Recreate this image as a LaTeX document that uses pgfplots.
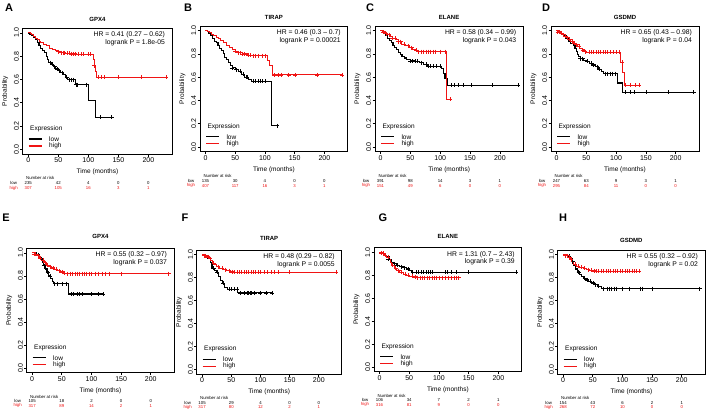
\documentclass[border=0pt]{standalone}
\usepackage{fontspec}
\setmainfont{Liberation Sans}
\usepackage{pgfplots}
\pgfplotsset{compat=1.18}
\definecolor{kmred}{RGB}{240,20,20}
\newcommand{\rfont}{\fontsize{4.3}{5}\selectfont}
\newcommand{\hfont}{\fontsize{6.8}{8}\selectfont}
\newcommand{\lfont}{\fontsize{6.5}{8}\selectfont}
\pgfplotsset{
 km/.style={
  scale only axis, anchor=south west, clip=false,
  xmin=-9.2, xmax=239.2, ymin=-0.04, ymax=1.04,
  xtick={0,50,100,150,200}, ytick={0,0.2,0.4,0.6,0.8,1},
  tick align=outside, xtick pos=bottom, ytick pos=left,
  major tick length=2.5pt,
  every tick/.style={black, line width=0.7pt},
  axis line style={line width=0.9pt},
  tick label style={font=\fontsize{7}{8}\selectfont},
  /pgf/number format/assume math mode=true,
  yticklabel style={rotate=90, anchor=south, inner sep=1pt, /pgf/number format/fixed, /pgf/number format/fixed zerofill, /pgf/number format/precision=1},
  xticklabel style={inner sep=1pt},
  xlabel={Time (months)}, ylabel={Probability},
  every axis x label/.style={at={(axis description cs:0.5,0)}, yshift=-18pt, anchor=center, font=\lfont},
  every axis y label/.style={at={(axis description cs:0,0.5)}, xshift=-17.5pt, rotate=90, anchor=center, font=\lfont},
 },
 lowc/.style={black, line width=1.1pt, const plot, no marks},
 highc/.style={kmred, line width=1.0pt, const plot, no marks},
 lowm/.style={black, only marks, mark=+, mark size=2pt, mark options={line width=0.6pt}, forget plot},
 highm/.style={kmred, only marks, mark=+, mark size=2pt, mark options={line width=0.6pt}, forget plot},
}
% #1 title, #2 title shift, #3 HR text, #4 P value
\newcommand{\kmtext}[4]{%
 \node[font=\bfseries\fontsize{6}{7}\selectfont, yshift=#2] at (rel axis cs:0.5,1) {#1};
 \node[font=\hfont, anchor=east, xshift=-3.5pt, yshift=-6.7pt] at (rel axis cs:1,1) {#3};
 \node[font=\hfont, anchor=east, xshift=-3.5pt, yshift=-14.5pt] at (rel axis cs:1,1) {logrank P = #4};
 \node[font=\lfont, anchor=west, xshift=4pt, yshift=25pt] at (rel axis cs:0,0) {Expression};
 \draw[black, line width=1.1pt] (rel axis cs:0,0) ++(6pt,15pt) -- ++(13pt,0pt);
 \draw[kmred, line width=1.1pt] (rel axis cs:0,0) ++(6pt,8pt) -- ++(13pt,0pt);
 \node[font=\lfont, anchor=west, xshift=23pt, yshift=15pt] at (rel axis cs:0,0) {low};
 \node[font=\lfont, anchor=west, xshift=23pt, yshift=8pt] at (rel axis cs:0,0) {high};
 \node[font=\rfont, anchor=west, yshift=-24pt] at (rel axis cs:0,0) {Number at risk};
}
% #1 color, #2 yshift, #3 label, #4-#8 numbers
\newcommand{\riskrow}[8]{%
 \node[text=#1, font=\rfont, xshift=-9pt, yshift=-#2] at (rel axis cs:0,0) {#3};
 \node[text=#1, font=\rfont, yshift=-#2] at (axis cs:0,-0.04) {#4};
 \node[text=#1, font=\rfont, yshift=-#2] at (axis cs:50,-0.04) {#5};
 \node[text=#1, font=\rfont, yshift=-#2] at (axis cs:100,-0.04) {#6};
 \node[text=#1, font=\rfont, yshift=-#2] at (axis cs:150,-0.04) {#7};
 \node[text=#1, font=\rfont, yshift=-#2] at (axis cs:200,-0.04) {#8};
}
\begin{document}
\begin{tikzpicture}[x=1pt,y=1pt]
\path[use as bounding box] (0,0) rectangle (708,413);
\node[font=\bfseries\fontsize{11}{12}\selectfont] at (9,405) {A};
\node[font=\bfseries\fontsize{11}{12}\selectfont] at (188,405) {B};
\node[font=\bfseries\fontsize{11}{12}\selectfont] at (370,405) {C};
\node[font=\bfseries\fontsize{11}{12}\selectfont] at (546,405) {D};
\node[font=\bfseries\fontsize{11}{12}\selectfont] at (6,195) {E};
\node[font=\bfseries\fontsize{11}{12}\selectfont] at (185,195) {F};
\node[font=\bfseries\fontsize{11}{12}\selectfont] at (383,195) {G};
\node[font=\bfseries\fontsize{11}{12}\selectfont] at (563,195) {H};

% ---------------- A ----------------
\begin{axis}[km, at={(22.7pt,259pt)}, width=149.3pt, height=125.7pt]
\addplot[lowc] coordinates {(0,1.0)(3,0.99)(6,0.975)(9,0.96)(12,0.94)(15,0.915)(18,0.89)(21,0.87)(24,0.85)(27,0.83)(30,0.80)(32,0.77)(34,0.745)(38,0.73)(42,0.71)(46,0.69)(50,0.675)(54,0.66)(58,0.64)(62,0.62)(66,0.60)(78,0.555)(101,0.416)(112,0.277)(139,0.277)};
\addplot[lowm] coordinates {(36,0.745)(40,0.73)(44,0.71)(48,0.69)(52,0.675)(56,0.66)(64,0.62)(68,0.60)(72,0.60)(75,0.60)(80,0.555)(82,0.555)(96,0.555)(120,0.277)(139,0.277)};
\addplot[highc] coordinates {(0,1.0)(3,0.995)(6,0.985)(9,0.97)(12,0.955)(15,0.94)(18,0.93)(21,0.92)(25,0.905)(30,0.89)(35,0.87)(40,0.86)(45,0.85)(50,0.84)(55,0.83)(62,0.825)(70,0.82)(80,0.815)(108,0.77)(110,0.72)(112,0.67)(114,0.62)(230,0.62)};
\addplot[highm] coordinates {(50,0.84)(55,0.83)(58,0.83)(60,0.83)(65,0.825)(68,0.825)(72,0.82)(75,0.82)(78,0.82)(84,0.815)(88,0.815)(92,0.815)(100,0.815)(104,0.815)(110,0.72)(116,0.62)(122,0.62)(126,0.62)(150,0.62)(188,0.62)(230,0.62)};
\kmtext{GPX4}{9.3pt}{HR = 0.41 (0.27 – 0.62)}{1.8e-05}
\riskrow{black}{29pt}{low}{235}{42}{4}{0}{0}
\riskrow{kmred}{34pt}{high}{307}{105}{16}{3}{1}
\end{axis}

% ---------------- B ----------------
\begin{axis}[km, at={(200pt,261.3pt)}, width=147.7pt, height=125.7pt]
\addplot[lowc] coordinates {(0,1.0)(3,0.99)(6,0.975)(9,0.955)(12,0.935)(15,0.91)(18,0.895)(21,0.87)(24,0.85)(27,0.83)(30,0.80)(32,0.77)(35,0.75)(38,0.725)(42,0.70)(46,0.68)(50,0.665)(55,0.65)(60,0.625)(66,0.60)(72,0.58)(78,0.565)(111,0.183)(120,0.183)};
\addplot[lowm] coordinates {(45,0.68)(52,0.665)(58,0.65)(63,0.625)(68,0.60)(70,0.60)(80,0.565)(84,0.565)(88,0.565)(92,0.565)(96,0.565)(100,0.565)(120,0.183)};
\addplot[highc] coordinates {(0,1.0)(3,0.995)(6,0.985)(10,0.97)(14,0.955)(18,0.94)(22,0.93)(26,0.915)(30,0.895)(35,0.875)(40,0.855)(45,0.84)(50,0.825)(55,0.81)(62,0.80)(70,0.79)(80,0.785)(104,0.745)(108,0.70)(112,0.66)(113,0.62)(230,0.62)};
\addplot[highm] coordinates {(50,0.825)(55,0.81)(58,0.81)(62,0.80)(66,0.80)(72,0.79)(75,0.79)(80,0.785)(84,0.785)(88,0.785)(95,0.785)(100,0.785)(116,0.62)(122,0.62)(127,0.62)(140,0.62)(151,0.62)(188,0.62)(230,0.62)};
\kmtext{TIRAP}{9pt}{HR = 0.46 (0.3 – 0.7)}{0.00021}
\riskrow{black}{29pt}{low}{135}{30}{4}{0}{0}
\riskrow{kmred}{34pt}{high}{407}{117}{16}{3}{1}
\end{axis}

% ---------------- C ----------------
\begin{axis}[km, at={(375pt,261.3pt)}, width=148.3pt, height=125.7pt]
\addplot[lowc] coordinates {(0,1.0)(3,0.99)(6,0.975)(9,0.955)(12,0.935)(15,0.915)(18,0.895)(21,0.875)(24,0.855)(27,0.835)(30,0.815)(33,0.795)(36,0.78)(40,0.765)(44,0.75)(50,0.74)(58,0.735)(65,0.725)(72,0.71)(78,0.695)(102,0.675)(105,0.635)(108,0.59)(112,0.53)(230,0.53)};
\addplot[lowm] coordinates {(50,0.74)(54,0.74)(58,0.735)(62,0.735)(68,0.725)(76,0.71)(80,0.695)(84,0.695)(88,0.695)(94,0.695)(100,0.695)(118,0.53)(124,0.53)(130,0.53)(138,0.53)(152,0.53)(188,0.53)(230,0.53)};
\addplot[highc] coordinates {(0,1.0)(4,0.99)(8,0.975)(12,0.965)(16,0.95)(20,0.935)(25,0.92)(30,0.905)(36,0.885)(42,0.87)(48,0.855)(54,0.84)(58,0.83)(62,0.82)(110,0.41)(117,0.41)};
\addplot[highm] coordinates {(5,0.99)(10,0.975)(15,0.965)(20,0.935)(24,0.935)(30,0.905)(34,0.905)(40,0.885)(46,0.87)(52,0.855)(60,0.83)(64,0.82)(68,0.82)(72,0.82)(76,0.82)(80,0.82)(84,0.82)(88,0.82)(92,0.82)(100,0.82)(108,0.82)(117,0.41)};
\kmtext{ELANE}{9pt}{HR = 0.58 (0.34 – 0.99)}{0.043}
\riskrow{black}{29pt}{low}{391}{98}{14}{3}{1}
\riskrow{kmred}{34pt}{high}{151}{49}{6}{0}{0}
\end{axis}

% ---------------- D ----------------
\begin{axis}[km, at={(551pt,261.3pt)}, width=148pt, height=125.7pt]
\addplot[lowc] coordinates {(0,1.0)(4,0.99)(8,0.975)(12,0.955)(16,0.93)(20,0.91)(24,0.89)(28,0.87)(31,0.85)(33,0.82)(35,0.795)(37,0.775)(40,0.76)(45,0.745)(50,0.735)(55,0.72)(60,0.705)(65,0.69)(70,0.67)(75,0.65)(79,0.63)(102,0.55)(111,0.47)(230,0.47)};
\addplot[lowm] coordinates {(40,0.76)(44,0.76)(52,0.735)(58,0.72)(62,0.705)(68,0.69)(72,0.67)(82,0.63)(86,0.63)(90,0.63)(94,0.63)(98,0.63)(116,0.47)(124,0.47)(130,0.47)(150,0.47)(188,0.47)(230,0.47)};
\addplot[highc] coordinates {(0,1.0)(3,0.99)(6,0.98)(9,0.965)(12,0.95)(15,0.94)(19,0.925)(23,0.91)(27,0.895)(31,0.88)(35,0.865)(39,0.85)(43,0.835)(47,0.82)(50,0.815)(108,0.73)(111,0.64)(114,0.53)(139,0.53)};
\addplot[highm] coordinates {(2,0.99)(5,0.99)(8,0.98)(11,0.965)(14,0.95)(18,0.94)(22,0.925)(26,0.91)(30,0.895)(34,0.88)(38,0.865)(44,0.835)(48,0.82)(55,0.815)(58,0.815)(62,0.815)(66,0.815)(70,0.815)(74,0.815)(78,0.815)(82,0.815)(86,0.815)(90,0.815)(95,0.815)(100,0.815)(105,0.815)(110,0.73)(116,0.53)(124,0.53)(132,0.53)(139,0.53)};
\kmtext{GSDMD}{9pt}{HR = 0.65 (0.43 – 0.98)}{0.04}
\riskrow{black}{29pt}{low}{247}{63}{9}{3}{1}
\riskrow{kmred}{34pt}{high}{295}{84}{11}{0}{0}
\end{axis}

% ---------------- E ----------------
\begin{axis}[km, at={(26.7pt,40.3pt)}, width=147.3pt, height=124.4pt]
\addplot[lowc] coordinates {(0,1.0)(8,0.985)(11,0.965)(14,0.95)(17,0.92)(19,0.89)(22,0.865)(25,0.835)(28,0.80)(31,0.775)(34,0.75)(36,0.733)(61,0.643)(120,0.643)};
\addplot[lowm] coordinates {(10,0.985)(15,0.95)(20,0.89)(23,0.865)(26,0.835)(30,0.80)(38,0.733)(42,0.733)(50,0.733)(58,0.733)(66,0.643)(70,0.643)(76,0.643)(80,0.643)(85,0.643)(100,0.643)(112,0.643)(120,0.643)};
\addplot[highc] coordinates {(0,1.0)(4,0.99)(8,0.975)(12,0.955)(16,0.935)(20,0.915)(24,0.895)(28,0.88)(33,0.87)(38,0.86)(43,0.845)(48,0.835)(53,0.825)(58,0.82)(230,0.82)};
\addplot[highm] coordinates {(3,0.99)(6,0.99)(10,0.975)(14,0.955)(18,0.935)(22,0.915)(26,0.895)(30,0.88)(35,0.87)(40,0.86)(45,0.845)(50,0.835)(55,0.825)(60,0.82)(64,0.82)(68,0.82)(72,0.82)(76,0.82)(80,0.82)(84,0.82)(88,0.82)(92,0.82)(96,0.82)(100,0.82)(106,0.82)(112,0.82)(118,0.82)(124,0.82)(130,0.82)(150,0.82)(230,0.82)};
\kmtext{GPX4}{12pt}{HR = 0.55 (0.32 – 0.97)}{0.037}
\riskrow{black}{28.5pt}{low}{105}{18}{2}{0}{0}
\riskrow{kmred}{33pt}{high}{317}{89}{14}{2}{1}
\end{axis}

% ---------------- F ----------------
\begin{axis}[km, at={(196.7pt,38.7pt)}, width=145pt, height=124.3pt]
\addplot[lowc] coordinates {(0,1.0)(6,0.99)(10,0.965)(14,0.93)(17,0.88)(21,0.86)(25,0.848)(28,0.81)(31,0.775)(35,0.75)(39,0.716)(43,0.70)(61,0.667)(120,0.667)};
\addplot[lowm] coordinates {(20,0.88)(26,0.848)(36,0.75)(46,0.70)(50,0.70)(55,0.70)(60,0.70)(65,0.667)(72,0.667)(78,0.667)(80,0.667)(82,0.667)(85,0.667)(90,0.667)(100,0.667)(110,0.667)(120,0.667)};
\addplot[highc] coordinates {(0,1.0)(4,0.99)(8,0.98)(12,0.965)(15,0.945)(18,0.925)(21,0.91)(25,0.895)(30,0.88)(36,0.87)(42,0.86)(48,0.85)(54,0.845)(230,0.845)};
\addplot[highm] coordinates {(3,0.99)(6,0.99)(10,0.98)(14,0.965)(20,0.925)(28,0.895)(34,0.88)(40,0.87)(46,0.86)(52,0.85)(56,0.845)(60,0.845)(64,0.845)(68,0.845)(72,0.845)(76,0.845)(80,0.845)(84,0.845)(88,0.845)(92,0.845)(96,0.845)(100,0.845)(106,0.845)(112,0.845)(118,0.845)(124,0.845)(130,0.845)(150,0.845)(230,0.845)};
\kmtext{TIRAP}{11.5pt}{HR = 0.48 (0.29 – 0.82)}{0.0055}
\riskrow{black}{28.5pt}{low}{105}{29}{4}{0}{0}
\riskrow{kmred}{33pt}{high}{317}{80}{12}{2}{1}
\end{axis}

% ---------------- G ----------------
\begin{axis}[km, at={(374pt,41.3pt)}, width=147.7pt, height=124pt]
\addplot[lowc] coordinates {(0,1.0)(5,0.99)(9,0.975)(12,0.965)(16,0.94)(20,0.915)(24,0.90)(28,0.885)(34,0.875)(40,0.865)(45,0.855)(50,0.84)(54,0.826)(230,0.826)};
\addplot[lowm] coordinates {(15,0.94)(25,0.90)(30,0.885)(36,0.875)(42,0.865)(48,0.855)(56,0.826)(62,0.826)(66,0.826)(70,0.826)(74,0.826)(78,0.826)(82,0.826)(86,0.826)(88,0.826)(110,0.826)(114,0.826)(120,0.826)(130,0.826)(150,0.826)(230,0.826)};
\addplot[highc] coordinates {(0,1.0)(5,0.99)(9,0.975)(12,0.956)(15,0.935)(18,0.91)(21,0.885)(25,0.86)(29,0.84)(34,0.825)(40,0.81)(46,0.80)(51,0.79)(57,0.785)(62,0.78)(133,0.78)};
\addplot[highm] coordinates {(3,0.99)(7,0.99)(10,0.975)(14,0.956)(22,0.885)(27,0.86)(32,0.84)(37,0.825)(43,0.81)(48,0.80)(55,0.79)(60,0.785)(64,0.78)(68,0.78)(72,0.78)(76,0.78)(80,0.78)(84,0.78)(88,0.78)(92,0.78)(96,0.78)(100,0.78)(105,0.78)(110,0.78)(115,0.78)(120,0.78)(125,0.78)(129,0.78)(133,0.78)};
\kmtext{ELANE}{11pt}{HR = 1.31 (0.7 – 2.43)}{0.39}
\riskrow{black}{28.5pt}{low}{106}{34}{7}{2}{1}
\riskrow{kmred}{33pt}{high}{316}{81}{9}{0}{0}
\end{axis}

% ---------------- H ----------------
\begin{axis}[km, at={(557.7pt,38.7pt)}, width=147.3pt, height=124.3pt]
\addplot[lowc] coordinates {(0,1.0)(8,0.985)(12,0.965)(15,0.94)(18,0.905)(21,0.875)(24,0.85)(28,0.826)(31,0.81)(34,0.795)(38,0.78)(42,0.77)(47,0.754)(52,0.74)(58,0.725)(64,0.704)(230,0.704)};
\addplot[lowm] coordinates {(10,0.985)(16,0.94)(26,0.85)(36,0.795)(40,0.78)(45,0.77)(50,0.754)(55,0.74)(60,0.725)(68,0.704)(74,0.704)(78,0.704)(82,0.704)(86,0.704)(90,0.704)(100,0.704)(112,0.704)(130,0.704)(134,0.704)(150,0.704)(230,0.704)};
\addplot[highc] coordinates {(0,1.0)(5,0.99)(9,0.975)(12,0.955)(15,0.935)(18,0.915)(22,0.90)(28,0.89)(34,0.88)(40,0.87)(45,0.865)(50,0.858)(55,0.855)(128,0.855)};
\addplot[highm] coordinates {(3,0.99)(7,0.99)(11,0.975)(14,0.955)(20,0.915)(25,0.90)(30,0.89)(36,0.88)(42,0.87)(48,0.865)(52,0.858)(56,0.855)(60,0.855)(64,0.855)(68,0.855)(72,0.855)(76,0.855)(80,0.855)(84,0.855)(88,0.855)(92,0.855)(96,0.855)(100,0.855)(104,0.855)(108,0.855)(112,0.855)(116,0.855)(120,0.855)(124,0.855)(128,0.855)};
\kmtext{GSDMD}{10pt}{HR = 0.55 (0.32 – 0.92)}{0.02}
\riskrow{black}{28.5pt}{low}{154}{43}{6}{2}{1}
\riskrow{kmred}{33pt}{high}{268}{72}{10}{0}{0}
\end{axis}
\end{tikzpicture}
\end{document}
